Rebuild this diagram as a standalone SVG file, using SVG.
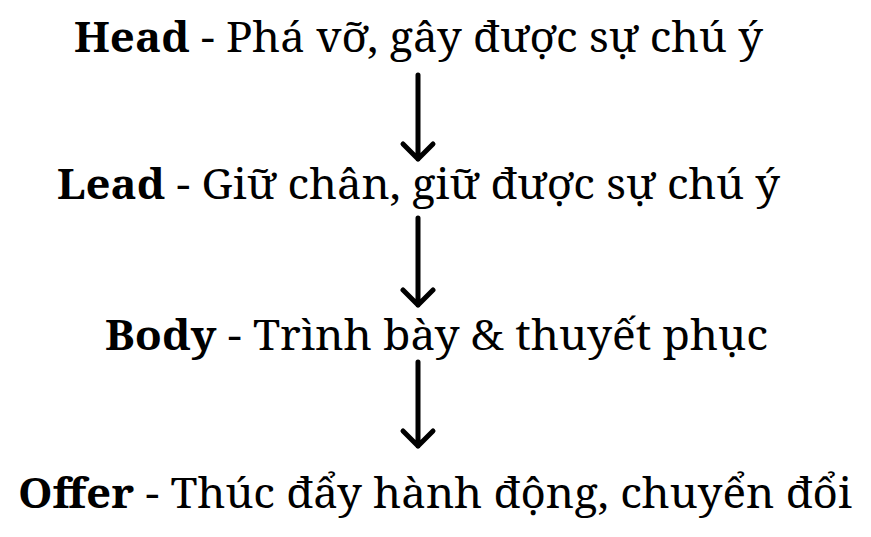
<svg xmlns="http://www.w3.org/2000/svg" width="871" height="537" viewBox="0 0 871 537">
<defs>
<style>
.t{font-family:"Noto Serif","DejaVu Serif","Liberation Serif",serif;font-size:42px;fill:#000}
.b{font-weight:bold}
.c{stroke:#000;stroke-width:5;fill:none;stroke-linecap:round;stroke-linejoin:round}
</style>
</defs>
<rect width="871" height="537" fill="#fff"/>
<g id="head"><text class="t" x="74" y="52" textLength="689" lengthAdjust="spacingAndGlyphs"><tspan class="b">Head</tspan> - Phá vỡ, gây được sự chú ý</text></g>
<g id="lead"><text class="t" x="57" y="199" textLength="723" lengthAdjust="spacingAndGlyphs"><tspan class="b">Lead</tspan> - Giữ chân, giữ được sự chú ý</text></g>
<g id="body"><text class="t" x="105" y="350" textLength="663" lengthAdjust="spacingAndGlyphs"><tspan class="b">Body</tspan> - Trình bày &amp; thuyết phục</text></g>
<g id="offer"><text class="t" x="18" y="508" textLength="834" lengthAdjust="spacingAndGlyphs"><tspan class="b">Offer</tspan> - Thúc đẩy hành động, chuyển đổi</text></g>
<g id="connectors" class="c">
<path d="M418 75 V159 M403 144 L418 159 L433 144"/>
<path d="M418 218 V305 M403 290 L418 305 L433 290"/>
<path d="M418 362 V446 M403 431 L418 446 L433 431"/>
</g>
</svg>
